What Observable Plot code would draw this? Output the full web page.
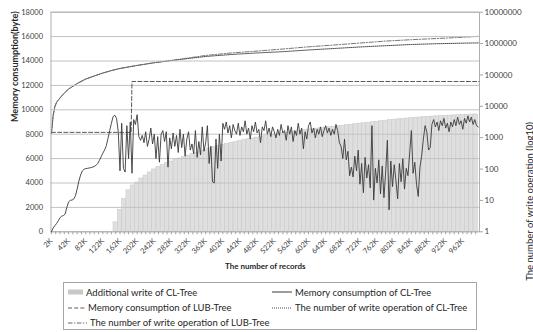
<!DOCTYPE html>
<html><head><meta charset="utf-8">
<script src="https://cdn.jsdelivr.net/npm/d3@7"></script>
<script src="https://cdn.jsdelivr.net/npm/@observablehq/plot@0.6"></script>
<style>
body{margin:0;background:#fff;width:533px;height:332px;position:relative;overflow:hidden;font-family:Lato,"Liberation Sans",sans-serif;}
.layer{position:absolute;left:0;top:0;}
#legend{position:absolute;left:63px;top:282px;width:414px;height:48px;border:1px solid #a6a6a6;box-sizing:border-box;font-size:9.5px;color:#262626;}
.item{position:absolute;height:12px;display:flex;align-items:center;white-space:nowrap;}
.item svg{margin-right:3px;}
</style></head>
<body>
<div id="chart"></div>
<div id="legend"></div>
<script>
// ---- data ----
const xLabelK = [2,42,82,122,162,202,242,282,322,362,402,442,482,522,562,602,642,682,722,762,802,842,882,922,962];
const leftTicks = [0,2000,4000,6000,8000,10000,12000,14000,16000,18000];
const rightTicks = [1,10,100,1000,10000,100000,1000000,10000000];

// Memory consumption of CL-Tree (byte), every 4K from 2K
const memStartK = 2, memStepK = 4;
const memCL = [
 0,300,500,680,900,1150,1280,1330,1450,2000,
 2450,2580,2600,2680,2950,3500,4150,4650,4980,5120,
 5180,5200,5230,5260,5300,5350,5450,5600,5850,6150,
 6450,6700,7050,7650,8300,8900,9450,9550,9300,8200,
 5000,8900,5200,4900,8700,6000,9000,4800,9200,8800,
 9600,7800,7500,7900,7300,8200,7000,7600,8500,7200,
 8000,6000,7800,5700,8000,8300,7400,8200,5300,7700,
 6800,8100,7000,7900,6500,8400,6900,8000,6200,7600,
 8200,6700,7200,6400,8300,6100,7400,6300,8600,6600,
 7300,8700,5600,7000,4100,4000,7600,5200,8000,5800,
 8900,8400,9000,8100,8700,7700,8800,8300,8000,8900,
 7900,8600,8200,9100,8000,8500,7600,8700,8200,9000,
 8100,8400,7300,8600,8300,9100,8000,8500,7800,8600,
 8200,7700,8400,7900,8800,8100,8300,7500,8700,8000,
 8600,7400,8300,7900,8900,8000,8500,6800,8200,7600,
 8700,9000,8100,8500,7700,8400,8000,8600,7800,8300,
 8700,8100,8500,7900,8400,8000,8800,8300,7300,7000,
 6000,7600,5900,6600,4600,5300,4500,6200,5000,6700,
 3900,5600,3200,6100,4400,5500,3600,8700,2600,5200,
 4000,5900,3100,5400,2800,4900,7500,1800,5800,3700,
 5500,4200,2700,5600,4100,6000,3500,5200,4600,6400,
 8300,4800,5700,3900,2900,5300,6200,7600,8700,8200,
 6700,6900,8800,9200,8600,9000,8300,9100,8700,9300,
 8500,8900,8200,9000,8600,9200,8700,9400,8800,9100,
 8400,9300,8900,9500,9000,9400,8800,9200,8700,8600
];

// Memory consumption of LUB-Tree (byte)
const lubK = [2, 188, 190, 1000];
const lubMem = [8150, 8150, 12320, 12320];

// Additional write of CL-Tree (bars, every 10K from 152K)
const barStartK = 152, barStepK = 10;
const addWrite = [
 2,5,11,21,30,37,50,62,78,97,
 116,134,156,174,195,217,242,270,302,337,
 376,420,460,500,545,590,630,680,730,780,
 830,890,940,1000,1060,1120,1180,1240,1310,1380,
 1450,1510,1580,1650,1730,1800,1870,1940,2010,2080,
 2160,2240,2320,2410,2500,2590,2690,2790,2890,3000,
 3110,3230,3350,3480,3610,3740,3850,3960,4070,4190,
 4300,4400,4500,4600,4700,4800,4900,4980,5060,5130,
 5200,5280,5360,5430,5520
];

// Number of write operations
const writeK = [2,6,10,14,22,30,42,62,82,102,122,142,162,202,242,302,362,422,482,542,602,662,722,782,842,902,962,998];
const writeCL = [1360,5100,9800,13300,18500,24700,35600,53100,74000,92800,115000,138000,161000,201000,245000,311000,388000,449000,502000,552000,625000,697000,779000,855000,935000,990000,1030000,1050000];
const writeLUB = [1360,5100,9800,13300,18500,24700,35600,53100,74000,92800,115000,138000,161000,201000,245000,318000,418000,502000,576000,670000,788000,902000,1040000,1200000,1330000,1450000,1590000,1700000];

const legendItems = [
 {label:"Additional write of CL-Tree", kind:"bar"},
 {label:"Memory consumption of CL-Tree", kind:"solid"},
 {label:"Memory consumption of LUB-Tree", kind:"dash"},
 {label:"The number of write operation of CL-Tree", kind:"dot"},
 {label:"The number of write operation of LUB-Tree", kind:"dashdot"}
];

// ---- tables ----
const mem = memCL.map((v,i)=>({k: memStartK + i*memStepK, v}));
const lub = lubK.map((k,i)=>({k, v: lubMem[i]}));
const bars = addWrite.map((v,i)=>({k: barStartK + i*barStepK, v}));
const writes = writeK.map((k,i)=>({k, cl: writeCL[i], lub: writeLUB[i]}));
const minorTicks = d3.range(2, 1000, 10);

const FONT = 'Lato, "Liberation Sans", sans-serif';
const W=533, H=280, ML=50.5, MR=54, MT=11.7, MB=48.7;
const xDomain=[1,1001];
const styles = {
 solid:{stroke:"#3a3a3a", dash:null, width:1},
 dash:{stroke:"#5a5a5a", dash:"4,2.2", width:1},
 dot:{stroke:"#333", dash:"0.9,1.1", width:0.9},
 dashdot:{stroke:"#666", dash:"4.5,1.6,1.2,1.6", width:0.9}
};

const pA = Plot.plot({
 width:W, height:H, marginLeft:ML, marginRight:MR, marginTop:MT, marginBottom:MB,
 style:{background:"white", fontFamily:FONT, color:"#404040", overflow:"visible"},
 x:{domain:xDomain, axis:null},
 y:{type:"log", domain:[1,1e7], axis:null},
 marks:[
  Plot.rectY(bars, {x1:d=>d.k-5, x2:d=>d.k+5, y1:1, y2:"v", fill:"#dfdfdf", stroke:"#cbcbcb", strokeWidth:0.6}),
  Plot.line(writes, {x:"k", y:"cl", stroke:styles.dot.stroke, strokeDasharray:styles.dot.dash, strokeWidth:styles.dot.width}),
  Plot.line(writes, {x:"k", y:"lub", stroke:styles.dashdot.stroke, strokeDasharray:styles.dashdot.dash, strokeWidth:styles.dashdot.width}),
  Plot.axisY({anchor:"right", ticks:rightTicks, tickFormat:d=>String(d), tickSize:3, tickPadding:2, fontSize:8, stroke:"#a6a6a6", fill:"#404040", label:null}),
  Plot.text(["The number of write operation (log10)"], {frameAnchor:"right", dx:50, rotate:-90, fontSize:9.5, fill:"#262626"})
 ]
});

const pB = Plot.plot({
 width:W, height:H, marginLeft:ML, marginRight:MR, marginTop:MT, marginBottom:MB,
 style:{background:"transparent", fontFamily:FONT, color:"#404040", overflow:"visible"},
 x:{domain:xDomain, axis:null},
 y:{domain:[0,18000], axis:null},
 marks:[
  Plot.gridY(leftTicks, {stroke:"#c2c2c2", strokeOpacity:1}),
  Plot.frame({stroke:"#b0b0b0"}),
  Plot.axisY({ticks:leftTicks, tickSize:0, tickPadding:8, tickFormat:d=>String(d), fontSize:7.5, fill:"#404040", label:null}),
  Plot.axisX({ticks:minorTicks, tickSize:3, tickFormat:()=>"", stroke:"#a6a6a6", label:null}),
  Plot.axisX({ticks:xLabelK, tickSize:0, tickPadding:8, tickRotate:-45, tickFormat:d=>d+"K", fontSize:7.5, fill:"#404040", label:null}),
  Plot.line(lub, {x:"k", y:"v", stroke:styles.dash.stroke, strokeDasharray:styles.dash.dash, strokeWidth:1}),
  Plot.line(mem, {x:"k", y:"v", stroke:styles.solid.stroke, strokeWidth:0.9}),
  Plot.text(["Memory consumption(byte)"], {frameAnchor:"left", dx:-35.5, rotate:-90, fontSize:9, fontWeight:"bold", fill:"#262626"}),
  Plot.text(["The number of records"], {frameAnchor:"bottom", dy:37, fontSize:8, fontWeight:"bold", fill:"#262626"})
 ]
});

pA.classList.add("layer"); pB.classList.add("layer");
const chart = document.getElementById("chart");
chart.appendChild(pA); chart.appendChild(pB);

// ---- legend ----
const pos = [
 {left:4, top:3, sw:15}, {left:208, top:3, sw:20},
 {left:4, top:18.7, sw:17}, {left:208, top:18.7, sw:20},
 {left:4, top:33.7, sw:19}
];
const legend = document.getElementById("legend");
legendItems.forEach((it,i)=>{
 const p = pos[i];
 const div = document.createElement("div");
 div.className = "item";
 div.style.left = p.left+"px"; div.style.top = p.top+"px";
 let sw;
 if (it.kind==="bar") {
  sw = `<svg width="${p.sw}" height="8"><rect x="0" y="1.5" width="${p.sw}" height="5" fill="#c8c8c8"/></svg>`;
 } else {
  const s = styles[it.kind];
  sw = `<svg width="${p.sw}" height="8"><line x1="0" x2="${p.sw}" y1="4" y2="4" stroke="${s.stroke}" stroke-width="1" ${s.dash?`stroke-dasharray="${s.dash}"`:""}/></svg>`;
 }
 div.innerHTML = sw + `<span>${it.label}</span>`;
 legend.appendChild(div);
});
</script>
</body></html>
